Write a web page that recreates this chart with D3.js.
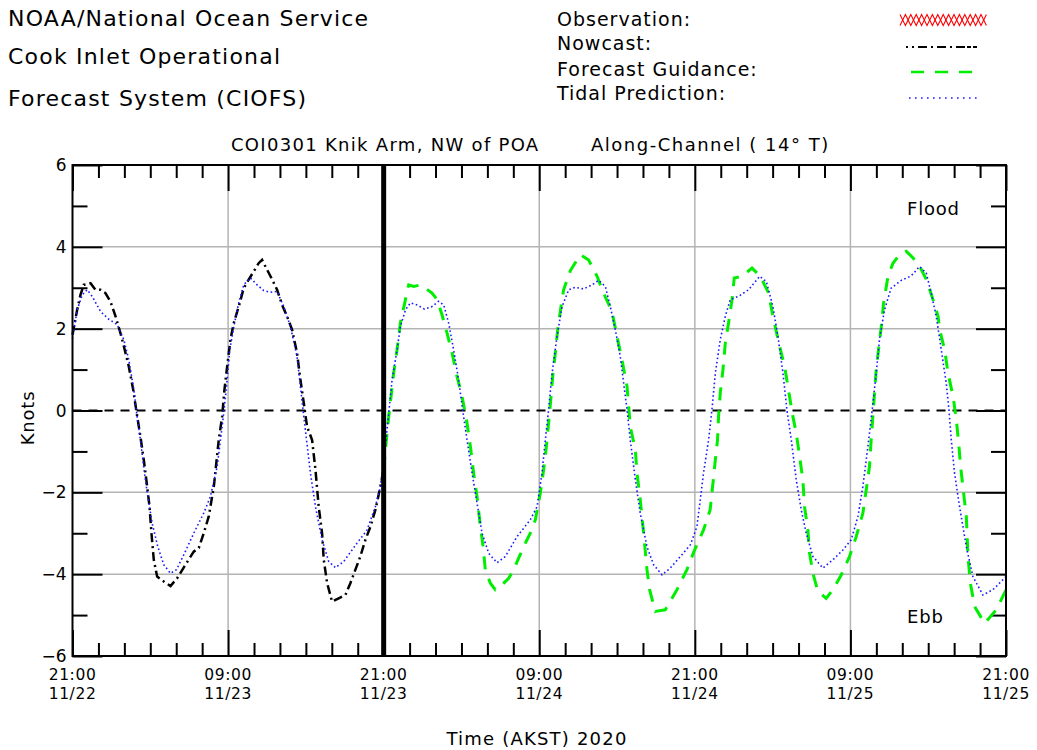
<!DOCTYPE html>
<html>
<head>
<meta charset="utf-8">
<title>CIOFS COI0301 Knik Arm currents</title>
<script src="https://cdn.jsdelivr.net/npm/d3@7"></script>
<style>
  html, body { margin: 0; padding: 0; background: #ffffff; }
  svg { display: block; }
  text { font-family: "DejaVu Sans", "Liberation Sans", sans-serif; fill: #000; }
</style>
</head>
<body>
<svg id="chart" width="1037" height="750"></svg>
<script>
// ---- Series (hours after 21:00 11/22 AKST, current speed in knots; + = flood) ----
const tideHours = [0.0,0.36,0.75,1.13,1.52,2.16,2.8,3.45,3.96,4.34,4.73,4.93,5.24,5.55,5.81,6.14,6.58,7.04,7.56,8.02,8.58,9.35,10.12,10.64,11.16,11.54,11.72,11.93,12.13,12.44,12.82,13.21,13.72,14.24,14.75,15.27,15.78,16.29,16.81,17.32,17.58,17.84,18.35,18.74,19.25,19.76,20.28,20.92,21.95,22.72,23.36,23.75,24.13,24.39,24.65,25.03,25.29,25.68,26.06,26.58,27.14,27.73,28.24,28.63,29.01,29.4,29.78,30.09,30.43,30.82,31.2,31.59,32.1,32.74,33.38,34.29,35.31,35.83,36.21,36.47,36.72,36.99,37.37,37.76,38.27,38.78,39.42,40.07,40.58,41.1,41.48,41.87,42.25,42.51,42.77,43.02,43.41,43.79,44.31,44.82,45.47,46.11,46.88,47.66,48.16,48.42,48.67,49.06,49.32,49.58,49.96,50.35,50.73,51.37,52.14,53.0,53.52,54.02,54.41,54.8,55.1,55.44,55.82,56.21,56.59,57.11,57.88,58.65,59.42,60.06,60.58,60.96,61.35,61.68,61.99,62.24,62.63,63.14,63.92,64.69,65.33,65.85,66.23,66.62,67.01,67.39,67.6,67.78,68.03,68.42,68.94,69.45,70.22,70.99,71.5,72.0];
const tideKnots = [1.75,2.46,2.83,2.95,2.79,2.42,2.23,2.1,1.73,1.24,0.51,-0.02,-0.72,-1.53,-2.1,-2.75,-3.33,-3.77,-3.98,-3.89,-3.53,-3.0,-2.51,-2.1,-1.37,-0.39,0.1,0.75,1.48,2.05,2.63,3.07,3.24,3.07,2.93,2.89,2.91,2.54,2.05,1.32,0.59,-0.15,-1.53,-2.35,-3.16,-3.69,-3.84,-3.69,-3.24,-2.92,-2.35,-1.86,-0.88,-0.06,0.75,1.48,2.05,2.46,2.63,2.58,2.48,2.54,2.67,2.58,2.14,1.48,0.75,0.02,-0.72,-1.53,-2.26,-3.0,-3.49,-3.72,-3.57,-3.08,-2.67,-2.35,-1.53,-0.72,0.02,0.91,1.81,2.54,2.95,3.01,2.97,3.07,3.18,3.03,2.54,1.97,1.32,0.67,0.02,-0.72,-1.69,-2.51,-3.33,-3.77,-4.02,-3.85,-3.57,-3.28,-2.84,-2.18,-1.53,-0.72,0.02,0.91,1.73,2.3,2.71,2.79,2.95,3.28,3.15,2.54,1.81,0.91,0.02,-0.72,-1.69,-2.43,-3.0,-3.57,-3.85,-3.65,-3.41,-3.16,-2.59,-1.86,-0.88,0.02,0.91,1.73,2.46,2.99,3.18,3.29,3.52,3.36,2.87,2.3,1.48,0.67,0.02,-0.72,-1.53,-2.35,-3.33,-4.06,-4.51,-4.38,-4.22,-4.06];

const nowcastHours = [0.0,0.36,0.62,0.87,1.39,1.77,2.16,2.54,2.93,3.32,3.7,3.96,4.34,4.68,4.93,5.24,5.5,5.76,5.94,6.09,6.27,6.53,7.04,7.56,8.07,8.71,9.35,9.74,10.12,10.51,10.9,11.28,11.54,11.72,11.93,12.18,12.44,12.82,13.21,13.59,13.98,14.36,14.62,15.01,15.4,15.78,16.17,16.55,16.94,17.32,17.58,17.84,18.09,18.48,18.74,18.99,19.25,19.38,19.64,20.02,20.53,21.05,21.43,21.82,22.2,22.59,22.98,23.36,23.75,24.0];
const nowcastKnots = [1.85,2.46,2.83,3.07,3.11,2.95,2.95,2.87,2.66,2.3,1.89,1.57,1.08,0.51,-0.02,-0.64,-1.21,-1.86,-2.35,-3.0,-3.65,-4.06,-4.18,-4.29,-4.1,-3.77,-3.45,-3.36,-3.0,-2.59,-1.86,-0.72,-0.15,0.51,1.08,1.73,2.14,2.54,2.99,3.2,3.4,3.6,3.68,3.44,3.2,2.95,2.58,2.3,1.97,1.4,0.75,0.18,-0.39,-0.72,-1.45,-2.35,-3.0,-3.65,-4.22,-4.67,-4.59,-4.51,-4.22,-3.89,-3.57,-3.16,-2.84,-2.43,-1.86,-1.45];

const forecastHours = [24.0,24.21,24.39,24.57,24.77,25.03,25.29,25.68,25.93,26.31,26.83,27.22,27.73,28.12,28.5,28.89,29.28,29.66,30.05,30.43,30.69,30.94,31.2,31.46,31.67,31.84,32.23,32.61,33.13,33.64,34.03,34.41,34.93,35.31,35.7,36.08,36.34,36.55,36.72,36.91,37.06,37.24,37.42,37.68,37.88,38.4,39.17,39.81,40.46,40.96,41.61,42.0,42.38,42.77,43.02,43.41,43.54,43.79,44.05,44.31,44.51,44.95,45.72,46.62,47.39,47.98,48.67,49.18,49.4,49.58,49.75,49.83,49.96,50.17,50.35,50.6,50.87,51.04,51.64,52.41,53.05,53.69,54.02,54.54,54.92,55.18,55.51,55.82,56.08,56.33,56.46,56.72,56.85,57.11,57.49,58.13,58.65,59.29,59.93,60.45,60.96,61.22,61.47,61.6,61.73,61.86,61.99,62.2,62.38,62.56,62.9,63.28,63.8,64.31,64.83,65.35,65.86,66.37,66.76,66.89,67.27,67.53,67.92,68.17,68.35,68.5,68.73,68.94,69.07,69.25,69.58,70.35,71.25,71.5,72.0];
const forecastKnots = [-1.45,-0.72,-0.15,0.34,0.91,1.48,2.14,2.71,3.07,3.03,3.07,2.99,2.87,2.71,2.34,1.89,1.4,0.83,0.34,-0.31,-0.88,-1.53,-2.1,-2.84,-3.33,-3.89,-4.22,-4.38,-4.26,-4.1,-3.89,-3.61,-3.24,-3.0,-2.67,-2.02,-1.45,-0.88,-0.31,0.34,0.91,1.4,1.97,2.54,2.95,3.42,3.81,3.68,3.28,2.87,2.42,1.81,1.24,0.59,-0.39,-0.96,-1.53,-2.18,-3.0,-3.89,-4.38,-4.91,-4.87,-4.38,-3.89,-3.41,-2.92,-2.43,-1.77,-1.21,-0.72,-0.15,0.42,1.0,1.65,2.14,2.71,3.24,3.28,3.48,3.28,2.87,2.3,1.57,1.08,0.59,-0.06,-0.55,-1.12,-1.69,-2.35,-2.92,-3.49,-3.98,-4.42,-4.59,-4.38,-4.02,-3.57,-3.08,-2.51,-1.94,-1.37,-0.72,-0.15,0.42,1.0,1.57,2.05,2.63,3.28,3.6,3.81,3.89,3.73,3.52,3.2,2.71,2.3,1.97,1.48,0.91,0.34,-0.23,-0.8,-1.37,-2.02,-2.59,-3.57,-4.22,-4.79,-5.2,-4.87,-4.71,-4.38];

// ---- Axes, ticks and labels ----
const startMs = Date.UTC(2020, 10, 22, 21, 0);   // 21:00 11/22 (AKST wall clock)
const spanHours = 72;
const nowcastEndHour = 24;
const yMajorTicks = [-6, -4, -2, 0, 2, 4, 6];
const yMinorTicks = [-5, -3, -1, 1, 3, 5];
const yTickLabels = ["\u22126", "\u22124", "\u22122", "0", "2", "4", "6"];
const xMajorHours = [0, 12, 24, 36, 48, 60, 72];
const xMinorHours = [2,4,6,8,10,14,16,18,20,22,26,28,30,32,34,38,40,42,44,46,50,52,54,56,58,62,64,66,68,70];
const xTickTimes = ["21:00", "09:00", "21:00", "09:00", "21:00", "09:00", "21:00"];
const xTickDays  = ["11/22", "11/23", "11/23", "11/24", "11/24", "11/25", "11/25"];

const headerLines = ["NOAA/National Ocean Service", "Cook Inlet Operational", "Forecast System (CIOFS)"];
const stationTitle = "COI0301 Knik Arm, NW of POA";
const componentTitle = "Along-Channel ( 14\u00B0 T)";
const legendNames = ["Observation:", "Nowcast:", "Forecast Guidance:", "Tidal Prediction:"];
const xAxisTitle = "Time (AKST) 2020";
const yAxisTitle = "Knots";

// ---- Drawing ----
const svg = d3.select("#chart");
const plot = { left: 72.5, right: 1006, top: 165, bottom: 656 };
const at = h => new Date(startMs + h * 3600e3);

const x = d3.scaleUtc().domain([at(0), at(spanHours)]).range([plot.left, plot.right]);
const y = d3.scaleLinear().domain([-6, 6]).range([plot.bottom, plot.top]);

const GRID = "#b4b4b4";

// gridlines
const grid = svg.append("g").attr("class", "grid");
grid.selectAll("line.v").data(xMajorHours.filter(h => h > 0 && h < spanHours)).join("line")
  .attr("class", "v")
  .attr("x1", h => x(at(h))).attr("x2", h => x(at(h)))
  .attr("y1", plot.top).attr("y2", plot.bottom)
  .attr("stroke", GRID).attr("stroke-width", 1.5);
grid.selectAll("line.h").data(yMajorTicks.filter(v => v !== 0 && Math.abs(v) < 6)).join("line")
  .attr("class", "h")
  .attr("x1", plot.left).attr("x2", plot.right)
  .attr("y1", v => y(v)).attr("y2", v => y(v))
  .attr("stroke", GRID).attr("stroke-width", 1.5);
// slack-water line
grid.append("line")
  .attr("x1", plot.left).attr("x2", plot.right)
  .attr("y1", y(0)).attr("y2", y(0))
  .attr("stroke", "#000").attr("stroke-width", 2)
  .attr("stroke-dasharray", "9,7");

// inward ticks on all four sides
function tickAxis(axis, tx, ty, values, size) {
  const g = svg.append("g").attr("transform", `translate(${tx},${ty})`)
    .call(axis.tickValues(values).tickSize(size).tickFormat(""));
  g.select(".domain").remove();
  g.selectAll(".tick line").attr("stroke", "#000").attr("stroke-width", 2);
  return g;
}
tickAxis(d3.axisBottom(x), 0, plot.bottom, xMinorHours.map(at), -13);
tickAxis(d3.axisBottom(x), 0, plot.bottom, xMajorHours.map(at), -26);
tickAxis(d3.axisTop(x), 0, plot.top, xMinorHours.map(at), -13);
tickAxis(d3.axisTop(x), 0, plot.top, xMajorHours.map(at), -26);
tickAxis(d3.axisLeft(y), plot.left, 0, yMinorTicks, -15);
tickAxis(d3.axisLeft(y), plot.left, 0, yMajorTicks, -30);
tickAxis(d3.axisRight(y), plot.right, 0, yMinorTicks, -15);
tickAxis(d3.axisRight(y), plot.right, 0, yMajorTicks, -30);

// tick labels
svg.append("g").selectAll("text").data(yMajorTicks).join("text")
  .attr("x", plot.left - 6).attr("y", v => y(v) + 6)
  .attr("text-anchor", "end").attr("font-size", 17)
  .text((v, i) => yTickLabels[i]);

const xl = svg.append("g").selectAll("text").data(xMajorHours).join("text")
  .attr("text-anchor", "middle").attr("font-size", 15.5).attr("letter-spacing", 0.6)
  .attr("transform", h => `translate(${x(at(h))},0)`);
xl.append("tspan").attr("x", 0).attr("y", 680).text((h, i) => xTickTimes[i]);
xl.append("tspan").attr("x", 0).attr("y", 699).text((h, i) => xTickDays[i]);

// series
const line = (hrs, vals) => d3.line()
  .x(i => x(at(hrs[i])))
  .y(i => y(vals[i]))(d3.range(hrs.length));

const series = svg.append("g").attr("fill", "none");
series.append("path").attr("d", line(nowcastHours, nowcastKnots))
  .attr("stroke", "#000").attr("stroke-width", 2.5)
  .attr("stroke-dasharray", "9,4,2,4");
series.append("path").attr("d", line(forecastHours, forecastKnots))
  .attr("stroke", "#00ee00").attr("stroke-width", 3)
  .attr("stroke-dasharray", "13,10");
series.append("path").attr("d", line(tideHours, tideKnots))
  .attr("stroke", "#1a1aff").attr("stroke-width", 1.6)
  .attr("stroke-dasharray", "1.6,2.6");

// nowcast / forecast boundary
svg.append("line")
  .attr("x1", x(at(nowcastEndHour))).attr("x2", x(at(nowcastEndHour)))
  .attr("y1", plot.top).attr("y2", plot.bottom)
  .attr("stroke", "#000").attr("stroke-width", 5);

// frame
svg.append("rect")
  .attr("x", plot.left).attr("y", plot.top)
  .attr("width", plot.right - plot.left).attr("height", plot.bottom - plot.top)
  .attr("fill", "none").attr("stroke", "#000").attr("stroke-width", 2);

// flood / ebb annotations
svg.append("text").attr("x", 907).attr("y", 215).attr("font-size", 18).attr("letter-spacing", 0.8).text("Flood");
svg.append("text").attr("x", 907).attr("y", 623).attr("font-size", 18).attr("letter-spacing", 0.8).text("Ebb");

// header
svg.append("g").selectAll("text").data(headerLines).join("text")
  .attr("x", 8).attr("y", (d, i) => [26, 64, 106][i])
  .attr("font-size", 22).attr("letter-spacing", 1.2)
  .text(d => d);

// station title
svg.append("text").attr("x", 231).attr("y", 151).attr("font-size", 18).attr("letter-spacing", 1.3)
  .text(stationTitle);
svg.append("text").attr("x", 591).attr("y", 151).attr("font-size", 18).attr("letter-spacing", 1.5)
  .text(componentTitle);

// legend
const legendY = [26, 50, 76, 100];
svg.append("g").selectAll("text").data(legendNames).join("text")
  .attr("x", 557).attr("y", (d, i) => legendY[i])
  .attr("font-size", 19).attr("letter-spacing", 1)
  .text(d => d);

const lg = svg.append("g").attr("fill", "none");
// observation: chain of red crosses
const zig = (phase) => d3.line()(d3.range(17).map(k => [900 + k * 5.4, 20 + ((k + phase) % 2 ? 5.5 : -5.5)]));
lg.append("path").attr("d", zig(0)).attr("stroke", "#ff0000").attr("stroke-width", 1.1);
lg.append("path").attr("d", zig(1)).attr("stroke", "#ff0000").attr("stroke-width", 1.1);
lg.append("line").attr("x1", 906).attr("x2", 981).attr("y1", 47).attr("y2", 47)
  .attr("stroke", "#000").attr("stroke-width", 2).attr("stroke-dasharray", "2,4,2,4,9,4,2,4,9,4,2,4,9");
lg.append("line").attr("x1", 911).attr("x2", 972).attr("y1", 72).attr("y2", 72)
  .attr("stroke", "#00ee00").attr("stroke-width", 2.5).attr("stroke-dasharray", "13,11");
lg.append("line").attr("x1", 909).attr("x2", 981).attr("y1", 98).attr("y2", 98)
  .attr("stroke", "#1a1aff").attr("stroke-width", 1.6).attr("stroke-dasharray", "1.6,4.4");

// axis titles
svg.append("text").attr("x", 537).attr("y", 745).attr("text-anchor", "middle")
  .attr("font-size", 18).attr("letter-spacing", 1.2).text(xAxisTitle);
svg.append("text").attr("transform", "translate(34,418) rotate(-90)").attr("text-anchor", "middle")
  .attr("font-size", 18).attr("letter-spacing", 0.8).text(yAxisTitle);
</script>
</body>
</html>
